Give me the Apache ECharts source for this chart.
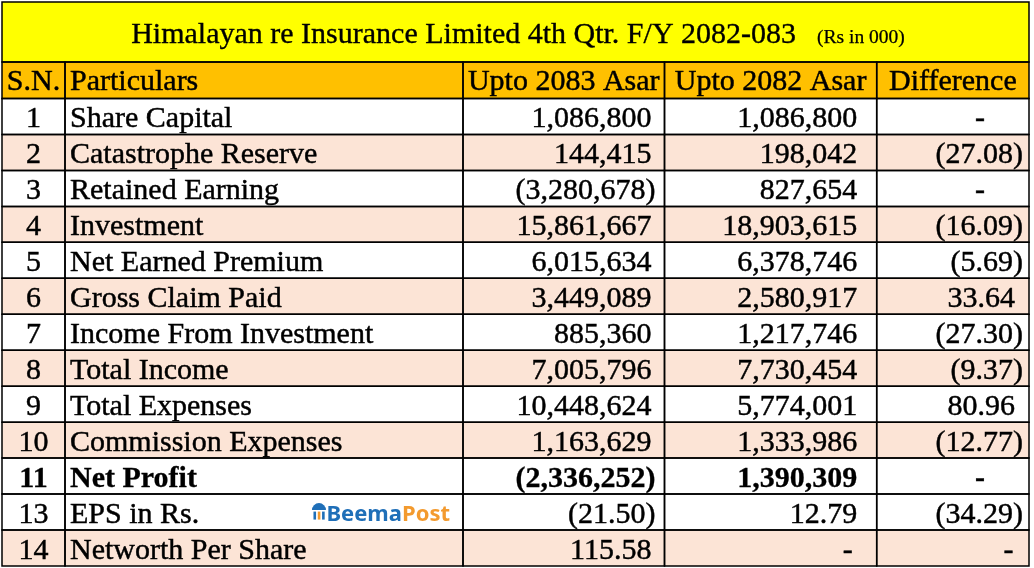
<!DOCTYPE html>
<html><head><meta charset="utf-8">
<script src="https://cdn.jsdelivr.net/npm/echarts@6/dist/echarts.min.js"></script>
<style>html,body{margin:0;padding:0;background:#fff;overflow:hidden}#c{width:1034px;height:568px}</style>
</head><body><div id="c"></div>
<script>
// ---------- data ----------
const titleMain = 'Himalayan re Insurance Limited 4th Qtr. F/Y 2082-083';
const titleUnit = '(Rs in 000)';
const headers = ['S.N.', 'Particulars', 'Upto 2083 Asar', 'Upto 2082 Asar', 'Difference'];
const serialNos = [1, 2, 3, 4, 5, 6, 7, 8, 9, 10, 11, 13, 14];
const particulars = ['Share Capital', 'Catastrophe Reserve', 'Retained Earning', 'Investment',
  'Net Earned Premium', 'Gross Claim Paid', 'Income From Investment', 'Total Income',
  'Total Expenses', 'Commission Expenses', 'Net Profit', 'EPS in Rs.', 'Networth Per Share'];
const upto2083 = [1086800, 144415, -3280678, 15861667, 6015634, 3449089, 885360, 7005796,
  10448624, 1163629, -2336252, -21.50, 115.58];
const upto2082 = [1086800, 198042, 827654, 18903615, 6378746, 2580917, 1217746, 7730454,
  5774001, 1333986, 1390309, 12.79, null];
const difference = ['-', -27.08, '-', -16.09, -5.69, 33.64, -27.30, -9.37, 80.96, -12.77, '-', -34.29, null];
const boldRows = ['Net Profit'];
const logoRow = 'EPS in Rs.';
const logoParts = ['Beema', 'Post'];

// ---------- layout / style ----------
const L = {
  colEdges: [2, 65, 463, 664.5, 876.7, 1029],
  top: 2, titleBottom: 62, headerBottom: 98.5, bottom: 566,
  titleCenter: 518, titleBaseline: 42.8, titleGap: 21,
  headerBaseline: 28, rowBaseline: 29.2,
  textLeftPad: 5
};
const SERIF = '"Liberation Serif", "Times New Roman", serif';
const F = {
  title: '30px ' + SERIF,
  unit: '19.5px ' + SERIF,
  cell: '30px ' + SERIF,
  cellBold: 'bold 30px ' + SERIF,
  logo: 'bold 22px "Noto Sans", sans-serif'
};
const MID = 0.27; // "middle" offset above baseline (em), empirical
const C = {
  title: '#FFFF00', header: '#FFC000', band: '#FCE4D6', plain: '#FFFFFF',
  border: '#000000', text: '#000000', logoBlue: '#1F6FB8', logoOrange: '#F39A2E'
};
const numPad = {
  2: { pos: 13, neg: 9, zero: 16, text: 44 },
  3: { pos: 19.5, neg: 14, zero: 24, text: 44 },
  4: { pos: 14, neg: 6, zero: 15.5, text: 44 }
};

const mctx = document.createElement('canvas').getContext('2d');
function tw(t, font) { mctx.font = font; return mctx.measureText(t).width; }
function fontSize(font) { return parseFloat(font.match(/(\d+(\.\d+)?)px/)[1]); }

const nRows = serialNos.length;
const rowH = (L.bottom - L.headerBottom) / nRows;
function rowBounds(R) {
  if (R === 0) return [L.top, L.titleBottom];
  if (R === 1) return [L.titleBottom, L.headerBottom];
  const r = R - 2;
  return [L.headerBottom + r * rowH, L.headerBottom + (r + 1) * rowH];
}
function fmtNum(v) {
  const a = Math.abs(v);
  const dec = Number.isInteger(a) ? 0 : 2;
  const s = a.toLocaleString('en-US', { minimumFractionDigits: dec, maximumFractionDigits: dec });
  return v < 0 ? '(' + s + ')' : s;
}
function cellValue(c, r) {
  const src = [null, null, upto2083, upto2082, difference][c];
  const v = src[r];
  if (v === null || v === undefined) return { text: '-', kind: 'zero' };
  if (typeof v === 'string') return { text: v, kind: 'text' };
  return { text: fmtNum(v), kind: v < 0 ? 'neg' : 'pos' };
}

// ---------- cells ----------
const cells = [];
cells.push([0, 0]);
headers.forEach((h, c) => cells.push([c, 1]));
serialNos.forEach((sn, r) => { for (let c = 0; c < 5; c++) cells.push([c, r + 2]); });

function txt(text, x, baseline, font, align, fill, heavy) {
  const fc = fill || C.text;
  const st = { text: text, x: x, y: baseline - MID * fontSize(font), font: font,
    align: align, verticalAlign: 'middle', fill: fc };
  if (heavy) { st.stroke = fc; st.lineWidth = heavy; }
  return { type: 'text', z2: 20, style: st };
}

function renderItem(params, api) {
  const c = api.value(0), R = api.value(1);
  const [y0, y1] = rowBounds(R);
  let x0, x1;
  if (R === 0) { x0 = L.colEdges[0]; x1 = L.colEdges[5]; }
  else { x0 = L.colEdges[c]; x1 = L.colEdges[c + 1]; }
  const p0 = api.coord([x0, y0]);
  const p1 = api.coord([x1, y1]);
  const X0 = p0[0], Y0 = p0[1], X1 = p1[0], Y1 = p1[1];
  const W = X1 - X0, H = Y1 - Y0;
  let fill;
  if (R === 0) fill = C.title;
  else if (R === 1) fill = C.header;
  else fill = (serialNos[R - 2] % 2 === 0) ? C.band : C.plain;
  const children = [
    { type: 'rect', z2: 0, shape: { x: X0, y: Y0, width: W, height: H }, style: { fill: fill } },
    { type: 'rect', z2: 10, shape: { x: X0, y: Y0, width: W, height: H },
      style: { fill: null, stroke: C.border, lineWidth: 1.5 } }
  ];
  const HV = 0.45;
  if (R === 0) {
    const w1 = tw(titleMain, F.title), w2 = tw(titleUnit, F.unit);
    const start = L.titleCenter - (w1 + L.titleGap + w2) / 2;
    const bl = Y0 + (L.titleBaseline - L.top);
    children.push(txt(titleMain, start, bl, F.title, 'left', null, 0.35));
    children.push(txt(titleUnit, start + w1 + L.titleGap, bl, F.unit, 'left', null, 0.25));
  } else if (R === 1) {
    const bl = Y0 + L.headerBaseline;
    if (c === 1) children.push(txt(headers[c], X0 + L.textLeftPad, bl, F.cell, 'left', null, HV));
    else children.push(txt(headers[c], (X0 + X1) / 2, bl, F.cell, 'center', null, HV));
  } else {
    const r = R - 2;
    const bl = Y0 + L.rowBaseline;
    const bold = boldRows.indexOf(particulars[r]) >= 0;
    const font = bold ? F.cellBold : F.cell;
    const hv = bold ? 0.3 : HV;
    if (c === 0) children.push(txt(String(serialNos[r]), (X0 + X1) / 2, bl, font, 'center', null, hv));
    else if (c === 1) {
      children.push(txt(particulars[r], X0 + L.textLeftPad, bl, font, 'left', null, hv));
      if (particulars[r] === logoRow) {
        const lb = Y0 + 27;
        const right = X1 - 13;
        const wPost = tw(logoParts[1], F.logo), wBeema = tw(logoParts[0], F.logo);
        children.push(txt(logoParts[1], right, lb, F.logo, 'right', C.logoOrange));
        children.push(txt(logoParts[0], right - wPost, lb, F.logo, 'right', C.logoBlue));
        const ix = right - wPost - wBeema - 14; // icon left
        const iy = lb - 17;
        children.push({ type: 'sector', z2: 20,
          shape: { cx: ix + 6.5, cy: iy + 6, r: 7, r0: 0, startAngle: Math.PI, endAngle: 2 * Math.PI },
          style: { fill: C.logoBlue } });
        for (let k = 0; k < 3; k++) {
          children.push({ type: 'rect', z2: 20,
            shape: { x: ix + 1 + k * 4.3, y: iy + 7.5, width: 2.6, height: 8 },
            style: { fill: k === 1 ? C.logoOrange : C.logoBlue } });
        }
      }
    } else {
      const cv = cellValue(c, r);
      const pad = numPad[c][cv.kind];
      children.push(txt(cv.text, X1 - pad, bl, font, 'right', null, hv));
    }
  }
  return { type: 'group', children: children };
}

const chart = echarts.init(document.getElementById('c'), null, { renderer: 'canvas' });
chart.setOption({
  backgroundColor: '#ffffff',
  animation: false,
  grid: { left: 0, right: 0, top: 0, bottom: 0 },
  xAxis: { type: 'value', min: 0, max: 1034, show: false },
  yAxis: { type: 'value', min: 0, max: 568, inverse: true, show: false },
  series: [{
    type: 'custom', coordinateSystem: 'cartesian2d', silent: true, clip: false,
    renderItem: renderItem, data: cells
  }]
});
</script></body></html>
